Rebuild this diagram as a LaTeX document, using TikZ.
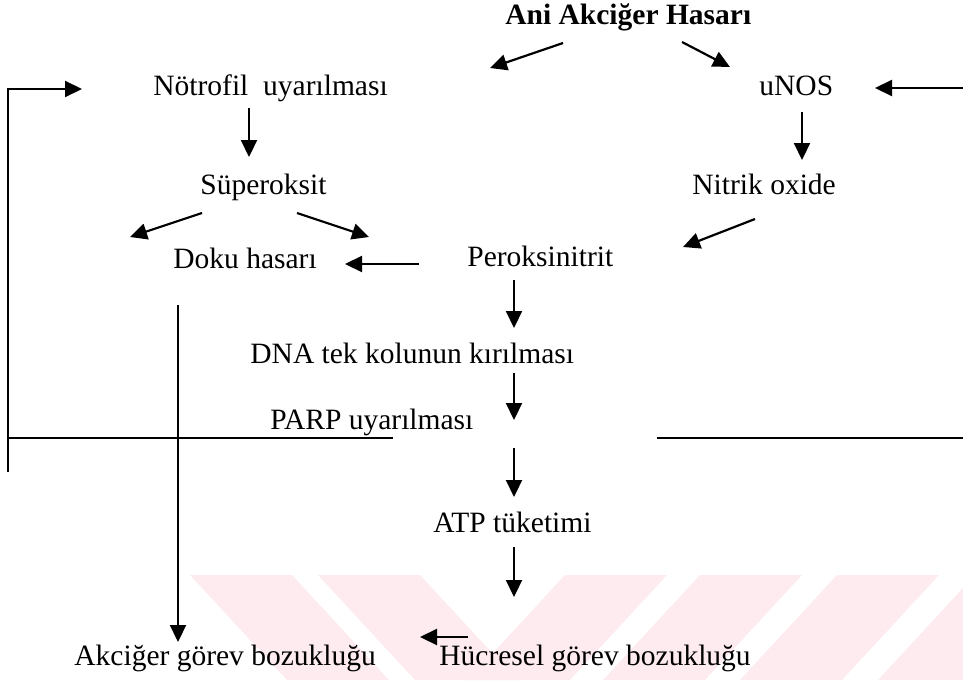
\documentclass[tikz,border=0pt]{standalone}
\usepackage{fontspec}
\setmainfont{Liberation Serif}
\usetikzlibrary{arrows.meta}
\definecolor{wmpink}{RGB}{253,235,239}
\begin{document}
\begin{tikzpicture}[x=0.5pt,y=-0.5pt,>={Triangle[length=8.5pt,width=8pt]},
  lbl/.style={anchor=base west,inner sep=0pt,font=\fontsize{14.75}{17}\selectfont},
  arr/.style={->,line width=1.1pt},
  loopline/.style={line width=1.1pt}]
  \useasboundingbox (0,0) rectangle (963,680);
  % faint stripes behind the lower part
  \begin{scope}
    \clip (0,0) rectangle (963,680);
    \foreach \topx/\botx in {190/287,318/415,565/468,700/603,837/740,975/878}{
      \fill[wmpink] (\topx,575) -- (\topx+102,575) -- (\botx+102,680) -- (\botx,680) -- cycle;
    }
  \end{scope}
  % labels
  \node[lbl] (ani) at (505,25) {\bfseries Ani Akciğer Hasarı};
  \node[lbl] (notrofil) at (153,95) {Nötrofil\ \ uyarılması};
  \node[lbl] (unos) at (759,95) {uNOS};
  \node[lbl] (super) at (200,194) {Süperoksit};
  \node[lbl] (nitrik) at (692,194) {Nitrik oxide};
  \node[lbl] (doku) at (173,268) {Doku hasarı};
  \node[lbl] (perok) at (467,266) {Peroksinitrit};
  \node[lbl] (dna) at (250,363) {DNA tek kolunun kırılması};
  \node[lbl] (parp) at (270,429) {PARP uyarılması};
  \node[lbl] (atp) at (433,532) {ATP tüketimi};
  \node[lbl] (akciger) at (74,665) {Akciğer görev bozukluğu};
  \node[lbl] (hucresel) at (439,665) {Hücresel görev bozukluğu};
  % arrow ends
  \coordinate (ani-l) at (563,43);    \coordinate (ani-lt) at (490,68);
  \coordinate (ani-r) at (682,42);    \coordinate (ani-rt) at (730,67);
  \coordinate (unos-in) at (963,88);  \coordinate (unos-int) at (875,88);
  \coordinate (unos-d) at (802,112);  \coordinate (unos-dt) at (802,160);
  \coordinate (nitrik-d) at (755,219); \coordinate (nitrik-dt) at (683,247);
  \coordinate (notrofil-d) at (249,108); \coordinate (notrofil-dt) at (249,157);
  \coordinate (super-l) at (202,213); \coordinate (super-lt) at (130,237);
  \coordinate (super-r) at (297,213); \coordinate (super-rt) at (369,237);
  \coordinate (perok-l) at (419,264); \coordinate (perok-lt) at (345,264);
  \coordinate (perok-d) at (514,280); \coordinate (perok-dt) at (514,328);
  \coordinate (dna-d) at (514,373);   \coordinate (dna-dt) at (514,420);
  \coordinate (parp-d) at (514,448);  \coordinate (parp-dt) at (514,497);
  \coordinate (atp-d) at (514,547);   \coordinate (atp-dt) at (514,597);
  \coordinate (hucresel-l) at (468,637); \coordinate (hucresel-lt) at (420,637);
  \coordinate (doku-d) at (178,305);  \coordinate (doku-dt) at (178,642);
  \coordinate (fb-bottom) at (8,472); \coordinate (fb-corner) at (8,89);
  \coordinate (fb-tip) at (82,89);
  \coordinate (fb-left) at (8,438);   \coordinate (fb-mid) at (393,438);
  \coordinate (fb-right) at (657,438); \coordinate (fb-end) at (963,438);
  % arrows
  \draw[arr] (ani-l) -- (ani-lt);
  \draw[arr] (ani-r) -- (ani-rt);
  \draw[arr] (unos-in) -- (unos-int);
  \draw[arr] (unos-d) -- (unos-dt);
  \draw[arr] (nitrik-d) -- (nitrik-dt);
  \draw[arr] (notrofil-d) -- (notrofil-dt);
  \draw[arr] (super-l) -- (super-lt);
  \draw[arr] (super-r) -- (super-rt);
  \draw[arr] (perok-l) -- (perok-lt);
  \draw[arr] (perok-d) -- (perok-dt);
  \draw[arr] (dna-d) -- (dna-dt);
  \draw[arr] (parp-d) -- (parp-dt);
  \draw[arr] (atp-d) -- (atp-dt);
  \draw[arr] (hucresel-l) -- (hucresel-lt);
  \draw[arr] (doku-d) -- (doku-dt);
  % feedback loop
  \draw[arr] (fb-bottom) -- (fb-corner) -- (fb-tip);
  \draw[loopline] (fb-left) -- (fb-mid);
  \draw[loopline] (fb-right) -- (fb-end);
\end{tikzpicture}
\end{document}
